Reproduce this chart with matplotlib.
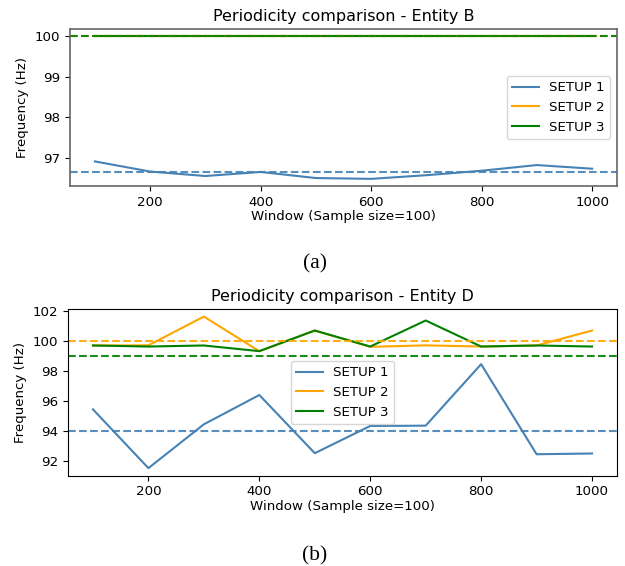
import matplotlib.pyplot as plt
import numpy as np

# Dane
okna = [100, 200, 300, 400, 500, 600, 700, 800, 900, 1000]
etykiety = ['SETUP 1', 'SETUP 2', 'SETUP 3']
kolory = ['steelblue', 'orange', 'green']

# Entity B
b_setup1 = [96.91, 96.66, 96.55, 96.65, 96.50, 96.48, 96.57, 96.68, 96.82, 96.73]
b_setup2 = [100.0, 100.0, 100.0, 100.0, 100.0, 100.0, 100.0, 100.0, 100.0, 100.0]
b_setup3 = [100.0, 100.0, 100.0, 100.0, 100.0, 100.0, 100.0, 100.0, 100.0, 100.0]
b_wzorce = [96.66, 100.0, 100.0]

# Entity D
d_setup1 = [95.42, 91.49, 94.42, 96.38, 92.49, 94.31, 94.33, 98.44, 92.42, 92.47]
d_setup2 = [99.69, 99.70, 101.62, 99.31, 100.69, 99.60, 99.70, 99.62, 99.69, 100.69]
d_setup3 = [99.69, 99.62, 99.69, 99.31, 100.69, 99.62, 101.36, 99.62, 99.69, 99.62]
d_wzorce = [94.0, 100.0, 99.0]

#------------------------------------------------------------------------------
def rysujPanel(ax, serie, wzorce, tytul, loc):
    """Jeden panel: przebiegi + linie odniesienia"""
    for y, kol, et in zip(serie, kolory, etykiety):
        ax.plot(okna, y, color=kol, lw=1.5, label=et)
    for w, kol in zip(wzorce, kolory):
        ax.axhline(w, color=kol, ls='--', lw=1.5, alpha=0.9)
    ax.set_title(tytul, fontsize=11.5)
    ax.set_xlabel('Window (Sample size=100)', fontsize=9.6, labelpad=1)
    ax.set_ylabel('Frequency (Hz)', fontsize=9.6)
    ax.tick_params(labelsize=9.6)
    ax.legend(loc=loc, fontsize=9.6)


fig = plt.figure(figsize=(6.25, 5.66), dpi=100)

ax1 = fig.add_axes([0.112, 0.6714, 0.8752, 0.2774])
rysujPanel(ax1, [b_setup1, b_setup2, b_setup3], b_wzorce,
           'Periodicity comparison - Entity B', 'center right')
ax1.set_yticks([97, 98, 99, 100])
for s in ax1.spines.values():
    s.set_color('0.4')
    s.set_linewidth(1.2)

ax2 = fig.add_axes([0.1088, 0.1595, 0.8784, 0.2945])
rysujPanel(ax2, [d_setup1, d_setup2, d_setup3], d_wzorce,
           'Periodicity comparison - Entity D', 'center')
ax2.set_yticks([92, 94, 96, 98, 100, 102])

fig.text(0.5035, 1 - 264 / 566, '(a)', ha='center', va='center',
         family='Liberation Serif', fontsize=15.5)
fig.text(0.5035, 1 - 556 / 566, '(b)', ha='center', va='center',
         family='Liberation Serif', fontsize=15.5)

fig.savefig('out.png', dpi=100)
